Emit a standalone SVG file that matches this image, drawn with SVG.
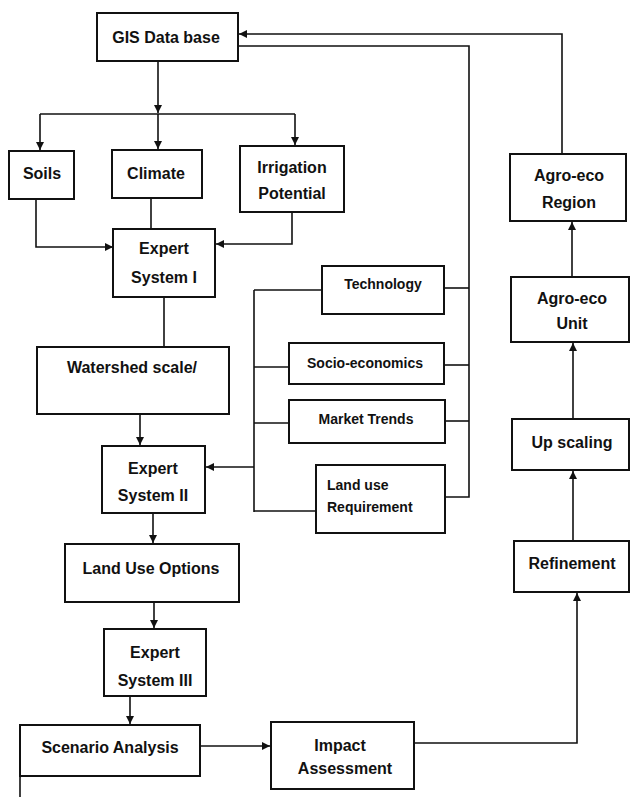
<svg xmlns="http://www.w3.org/2000/svg" width="630" height="797" viewBox="0 0 630 797">
<style>
.box{fill:#fff;stroke:#111;stroke-width:2}
.t{font-family:"Liberation Sans",Arial,sans-serif;font-weight:bold;font-size:16px;fill:#111;text-anchor:middle}
.s{font-family:"Liberation Sans",Arial,sans-serif;font-weight:bold;font-size:14px;fill:#111;text-anchor:middle}
.sl{font-family:"Liberation Sans",Arial,sans-serif;font-weight:bold;font-size:14px;fill:#111;text-anchor:start}
.c{fill:none;stroke:#111;stroke-width:1.6}
</style>
<defs>
<marker id="ah" markerUnits="userSpaceOnUse" markerWidth="9" markerHeight="9" refX="8" refY="4" orient="auto">
<path d="M0,0 L8,4 L0,8 z" fill="#111"/>
</marker>
</defs>
<rect width="630" height="797" fill="#fff"/>
<g id="connectors">
<path class="c" d="M158,61 V113" marker-end="url(#ah)"/>
<path class="c" d="M40,114 H295"/>
<path class="c" d="M40,114 V150" marker-end="url(#ah)"/>
<path class="c" d="M158,114 V149" marker-end="url(#ah)"/>
<path class="c" d="M295,114 V145" marker-end="url(#ah)"/>
<path class="c" d="M36,199 V247 H113" marker-end="url(#ah)"/>
<path class="c" d="M151,198 V229"/>
<path class="c" d="M292,212 V244 H216" marker-end="url(#ah)"/>
<path class="c" d="M164,297 V347"/>
<path class="c" d="M140,414 V445" marker-end="url(#ah)"/>
<path class="c" d="M254,290 V512"/>
<path class="c" d="M254,290 H322"/>
<path class="c" d="M254,367 H289"/>
<path class="c" d="M254,423 H289"/>
<path class="c" d="M254,511 H316"/>
<path class="c" d="M254,467 H206" marker-end="url(#ah)"/>
<path class="c" d="M444,288 H469"/>
<path class="c" d="M444,365 H469"/>
<path class="c" d="M445,421 H469"/>
<path class="c" d="M445,497 H469 V46 H239"/>
<path class="c" d="M562,154 V34 H239" marker-end="url(#ah)"/>
<path class="c" d="M153,513 V543" marker-end="url(#ah)"/>
<path class="c" d="M154,602 V628" marker-end="url(#ah)"/>
<path class="c" d="M130,693 V724" marker-end="url(#ah)"/>
<path class="c" d="M200,746 H270" marker-end="url(#ah)"/>
<path class="c" d="M414,743 H577 V593" marker-end="url(#ah)"/>
<path class="c" d="M573,541 V471" marker-end="url(#ah)"/>
<path class="c" d="M573,419 V343" marker-end="url(#ah)"/>
<path class="c" d="M572,277 V222" marker-end="url(#ah)"/>
<path class="c" d="M20,756 V797"/>
<path d="M20,766 L24,772 L20,778 z" fill="#111"/>
</g>
<g id="gis"><rect class="box" x="97" y="13" width="141" height="48"/><text class="t" x="166" y="43">GIS Data base</text></g>
<g id="soils"><rect class="box" x="9" y="151" width="65" height="48"/><text class="t" x="42" y="179">Soils</text></g>
<g id="climate"><rect class="box" x="112" y="150" width="90" height="48"/><text class="t" x="156" y="179">Climate</text></g>
<g id="irrigation"><rect class="box" x="240" y="146" width="104" height="66"/><text class="t" x="292" y="173">Irrigation</text><text class="t" x="292" y="199">Potential</text></g>
<g id="es1"><rect class="box" x="113" y="229" width="102" height="68"/><text class="t" x="164" y="254">Expert</text><text class="t" x="164" y="283">System I</text></g>
<g id="watershed"><rect class="box" x="37" y="347" width="192" height="67"/><text class="t" x="132" y="373">Watershed scale/</text></g>
<g id="technology"><rect class="box" x="322" y="266" width="122" height="48"/><text class="s" x="383" y="289">Technology</text></g>
<g id="socio"><rect class="box" x="289" y="343" width="155" height="41"/><text class="s" x="365" y="368">Socio-economics</text></g>
<g id="market"><rect class="box" x="289" y="400" width="156" height="43"/><text class="s" x="366" y="424">Market Trends</text></g>
<g id="landusereq"><rect class="box" x="316" y="465" width="129" height="68"/><text class="sl" x="327" y="490">Land use</text><text class="sl" x="327" y="512">Requirement</text></g>
<g id="es2"><rect class="box" x="102" y="446" width="103" height="67"/><text class="t" x="153" y="474">Expert</text><text class="t" x="153" y="501">System II</text></g>
<g id="landuseoptions"><rect class="box" x="65" y="544" width="174" height="58"/><text class="t" x="151" y="574">Land Use Options</text></g>
<g id="es3"><rect class="box" x="104" y="629" width="102" height="67"/><text class="t" x="155" y="658">Expert</text><text class="t" x="155" y="686">System III</text></g>
<g id="scenario"><rect class="box" x="20" y="725" width="180" height="51"/><text class="t" x="110" y="753">Scenario Analysis</text></g>
<g id="impact"><rect class="box" x="271" y="722" width="143" height="67"/><text class="t" x="340" y="751">Impact</text><text class="t" x="345" y="774">Assessment</text></g>
<g id="region"><rect class="box" x="510" y="154" width="116" height="67"/><text class="t" x="569" y="181">Agro-eco</text><text class="t" x="569" y="208">Region</text></g>
<g id="unit"><rect class="box" x="511" y="277" width="118" height="65"/><text class="t" x="572" y="304">Agro-eco</text><text class="t" x="572" y="329">Unit</text></g>
<g id="upscaling"><rect class="box" x="512" y="419" width="117" height="51"/><text class="t" x="572" y="448">Up scaling</text></g>
<g id="refinement"><rect class="box" x="514" y="541" width="115" height="51"/><text class="t" x="572" y="569">Refinement</text></g>
</svg>
